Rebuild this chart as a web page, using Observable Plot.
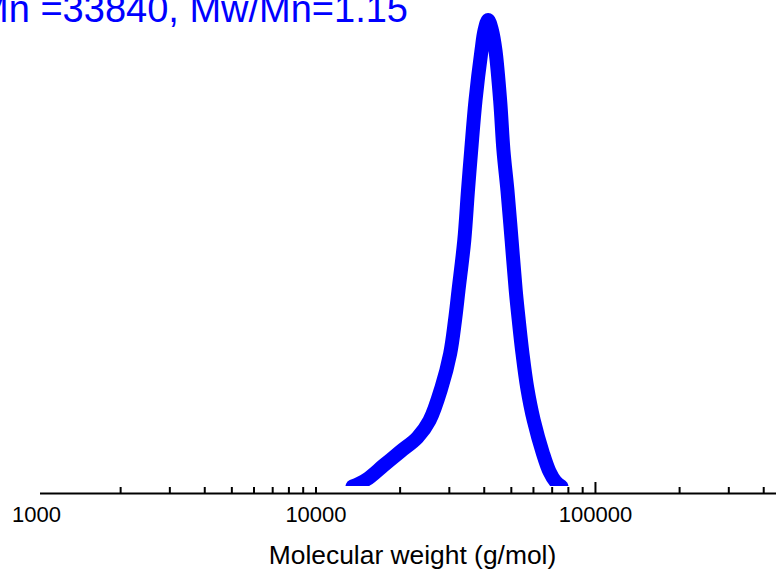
<!DOCTYPE html>
<html>
<head>
<meta charset="utf-8">
<script src="https://cdn.jsdelivr.net/npm/d3@7"></script>
<script src="https://cdn.jsdelivr.net/npm/@observablehq/plot@0.6"></script>
<style>
  html, body { margin: 0; padding: 0; background: #fff; }
  #wrap { position: relative; width: 776px; height: 572px; overflow: hidden; font-family: "Liberation Sans", Arial, sans-serif; }
  #title { position: absolute; right: 368px; top: -10px; white-space: nowrap; font-size: 38px; line-height: 38px; color: #0000ff; }
  #caption { position: absolute; left: 0; width: 825px; top: 542px; text-align: center; white-space: nowrap; font-size: 26.4px; line-height: 26px; color: #000; }
  #chart { position: absolute; left: 0; top: 0; }
</style>
</head>
<body>
<div id="wrap">
  <div id="chart"></div>
  <div id="title"></div>
  <div id="caption"></div>
</div>
<script>
const titleText = "Mn =33840, Mw/Mn=1.15";
const xLabel = "Molecular weight (g/mol)";

// GPC trace: molecular weight (g/mol) and relative intensity (% of peak)
const mw = [13510, 15160, 17440, 20060, 23080, 25480, 28120, 30210, 31430,
            32350, 33930, 34980, 35920, 37220, 39100, 40090, 41310,
            42640, 43880, 45600, 46860, 48430, 50130, 51850, 53170, 54810,
            56970, 60150, 64900, 68450, 71940, 75560];
const intensity = [0, 1.5, 4.5, 7.5, 10.5, 14.15, 21.22, 28.51, 35.58,
                   42.02, 52.73, 63.45, 72.03, 82.74, 93.46, 97.75, 100,
                   97.75, 93.46, 82.74, 72.03, 63.45, 52.73, 42.02, 35.58, 28.51,
                   21.22, 14.15, 7.07, 3.22, 1.07, 0];

const minorTicks = [2000, 3000, 4000, 5000, 6000, 7000, 8000, 9000, 10000,
                    20000, 30000, 40000, 50000, 60000, 70000, 80000, 90000,
                    200000, 300000, 400000];
const majorTicks = [100000];
const tickLabels = [1000, 10000, 100000];

const data = mw.map((m, i) => ({mw: m, v: intensity[i]}));

const chart = Plot.plot({
  width: 776,
  height: 535,
  marginLeft: 36,
  marginRight: 0,
  marginTop: 0,
  marginBottom: 49,
  style: {fontFamily: "'Liberation Sans', Arial, sans-serif", background: "transparent", overflow: "visible"},
  x: {type: "log", domain: [1000, 444400], label: null},
  y: {domain: [0, 104.18], axis: null, label: null},
  marks: [
    Plot.line(data, {x: "mw", y: "v", stroke: "#0000ff", strokeWidth: 14, curve: "catmull-rom", clip: true}),
    Plot.ruleY([0], {dy: 7, insetLeft: 4, stroke: "#000", strokeWidth: 2}),
    Plot.axisX({ticks: minorTicks, tickSize: -6, dy: 7, text: null, stroke: "#000", strokeWidth: 2, label: null}),
    Plot.axisX({ticks: majorTicks, tickSize: -11, dy: 7, text: null, stroke: "#000", strokeWidth: 2, label: null}),
    Plot.axisX({ticks: tickLabels, tickSize: 0, tickPadding: 20, tickFormat: d => String(d), fontSize: 22, fill: "#000", label: null})
  ]
});
document.getElementById("chart").appendChild(chart);
document.getElementById("title").textContent = titleText;
document.getElementById("caption").textContent = xLabel;
</script>
</body>
</html>
